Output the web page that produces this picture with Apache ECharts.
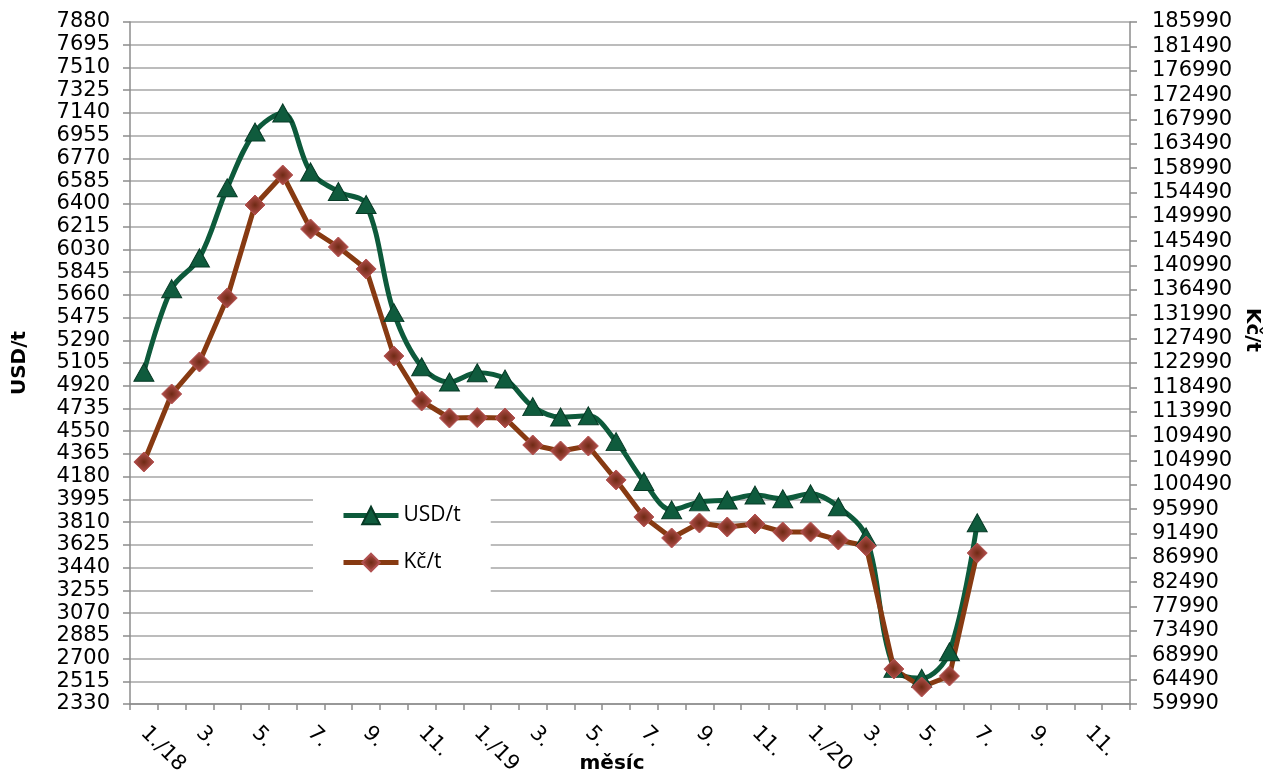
<!DOCTYPE html>
<html>
<head>
<meta charset="utf-8">
<script src="https://cdn.jsdelivr.net/npm/echarts@6/dist/echarts.min.js"></script>
<style>
html,body{margin:0;padding:0;background:#fff;}
#chart{width:1264px;height:774px;}
</style>
</head>
<body>
<div id="chart"></div>
<script>
var months = ['1./18','2.','3.','4.','5.','6.','7.','8.','9.','10.','11.','12.',
    '1./19','2.','3.','4.','5.','6.','7.','8.','9.','10.','11.','12.',
    '1./20','2.','3.','4.','5.','6.','7.','8.','9.','10.','11.','12.'];
var usd = [5030,5710,5960,6530,6985,7140,6660,6500,6395,5515,5075,4950,
    5025,4975,4750,4665,4675,4465,4140,3910,3975,3990,4030,4000,
    4040,3935,3690,2620,2540,2755,3805];
var czk = [104700,117260,123180,135000,152180,157720,147750,144420,140360,124280,115970,112830,
    112900,112830,107840,106730,107660,101380,94540,90660,93430,92690,93250,91770,
    91770,90290,89180,66460,63130,65160,87890];

var fontFam = 'DejaVu Sans';
var plain = function (v) { return String(v); };
var chart = echarts.init(document.getElementById('chart'));
var option = {
    animation: false,
    textStyle: { fontFamily: fontFam },
    grid: { left: 130, right: 134, top: 22, bottom: 70, containLabel: false, outerBoundsMode: 'none' },
    legend: {
        orient: 'vertical',
        left: 313,
        top: 485,
        backgroundColor: '#fff',
        padding: [20, 30, 20, 28],
        itemWidth: 55,
        itemHeight: 22,
        itemGap: 26,
        lineStyle: { width: 5 },
        textStyle: { fontSize: 21, color: '#000', fontFamily: 'Open Sans' },
        data: ['USD/t', 'Kč/t']
    },
    xAxis: {
        type: 'category',
        data: months,
        boundaryGap: true,
        name: 'měsíc',
        nameLocation: 'middle',
        nameGap: 50,
        nameMoveOverlap: false,
        nameTextStyle: { fontSize: 20, fontWeight: 'bold', color: '#000', padding: [0, 36, 0, 0] },
        axisLine: { lineStyle: { color: '#8c8c8c', width: 1.5 } },
        axisTick: { show: true, interval: 0, length: 6, lineStyle: { color: '#8c8c8c', width: 1.5 } },
        axisLabel: { interval: 1, rotate: -45, fontSize: 21, color: '#000', margin: 26 },
        splitLine: { show: false }
    },
    yAxis: [{
        type: 'value',
        min: 2330,
        max: 7880,
        interval: 185,
        name: 'USD/t',
        nameLocation: 'middle',
        nameGap: 100,
        nameMoveOverlap: false,
        nameTextStyle: { fontSize: 20, fontWeight: 'bold', color: '#000' },
        axisLine: { show: true, lineStyle: { color: '#8c8c8c', width: 1.5 } },
        axisTick: { show: true, length: 7, lineStyle: { color: '#8c8c8c', width: 1.5 } },
        axisLabel: { fontSize: 21, color: '#000', margin: 20, formatter: plain },
        splitLine: { show: true, lineStyle: { color: '#a6a6a6', width: 1.5 } }
    }, {
        type: 'value',
        min: 59990,
        max: 185990,
        interval: 4500,
        alignTicks: false,
        name: 'Kč/t',
        nameLocation: 'middle',
        nameGap: 112,
        nameMoveOverlap: false,
        nameRotate: -90,
        nameTextStyle: { fontSize: 20, fontWeight: 'bold', color: '#000', padding: [0, 66, 0, 0] },
        axisLine: { show: true, lineStyle: { color: '#8c8c8c', width: 1.5 } },
        axisTick: { show: true, length: 7, lineStyle: { color: '#8c8c8c', width: 1.5 } },
        axisLabel: { fontSize: 21, color: '#000', margin: 22, formatter: plain },
        splitLine: { show: false }
    }],
    series: [{
        name: 'USD/t',
        type: 'line',
        yAxisIndex: 0,
        data: usd,
        smooth: 0.35,
        showAllSymbol: true,
        symbol: 'triangle',
        symbolSize: [20, 18],
        lineStyle: { color: '#0d5a3b', width: 5 },
        itemStyle: { color: '#0f5b3d', borderColor: '#073a26', borderWidth: 1 }
    }, {
        name: 'Kč/t',
        type: 'line',
        yAxisIndex: 1,
        data: czk,
        showAllSymbol: true,
        symbol: 'diamond',
        symbolSize: 20,
        lineStyle: { color: '#873a12', width: 5 },
        itemStyle: {
            color: new echarts.graphic.RadialGradient(0.5, 0.5, 0.6, [
                { offset: 0, color: '#6e2a14' },
                { offset: 1, color: '#c85a5c' }
            ]),
            borderColor: '#b05050',
            borderWidth: 1
        }
    }]
};
chart.setOption(option);
</script>
</body>
</html>
